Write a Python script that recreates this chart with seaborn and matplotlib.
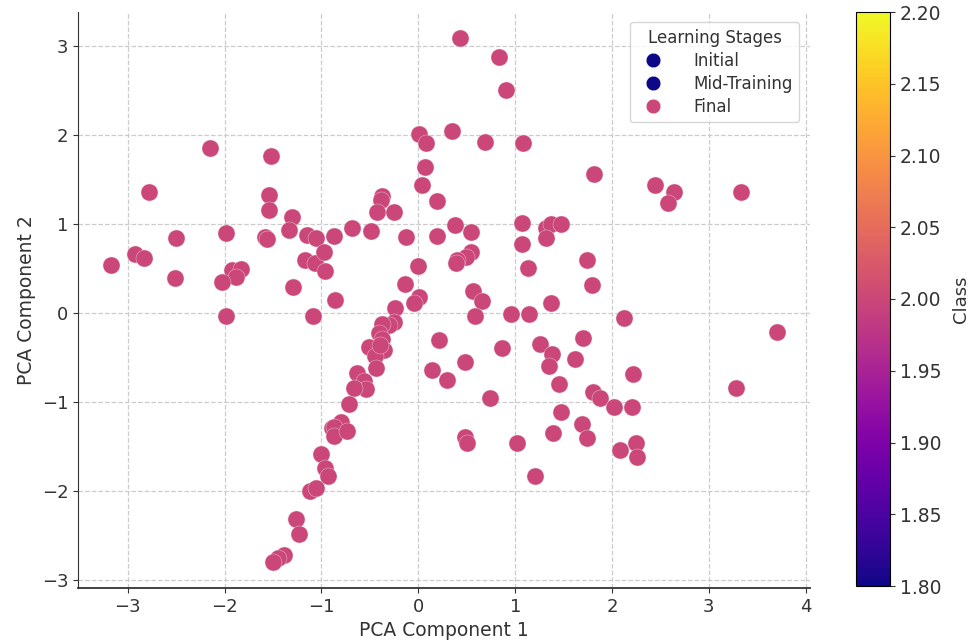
import numpy as np
import matplotlib
matplotlib.use("Agg")
import matplotlib.pyplot as plt
import seaborn as sns
import pandas as pd
from matplotlib.lines import Line2D

pc1 = [-2.15, -1.52, -2.78, -1.54, -1.54, -1.30, -1.99, -2.50, -1.58, -1.56, -1.34, -1.15, -1.06,
       -2.93, -2.83, -3.17, -1.92, -1.83, -1.88, -1.17, -1.07, -0.97, -0.96, -2.51, -2.03, -1.29,
       -1.99, -1.09, -0.86, -0.87,
       0.43, 0.83, 0.91, 0.01, 0.08, 0.35, 0.69, 1.08, 0.07, 0.04, 0.19, -0.37, -0.39, -0.43, -0.25,
       -0.68, -0.49, -0.13, 0.19, 0.38, 0.54, 1.07, 1.32, 1.37, 1.47, 1.32, 1.07, 0.54, 0.49, 0.40,
       0.39, 0.00, 1.13, -0.14, 0.56, 0.66, 0.01, -0.04, -0.24, 0.96, 1.14, 1.37,
       1.81, 2.44, 2.64, 2.58, 3.33, 1.74, 1.79,
       -0.89, -1.00, -0.96, -0.93, -1.12, -1.06, -1.26, -1.23, -1.39, -1.45, -1.50,
       0.58, -0.25, -0.30, -0.37, -0.41, -0.37, -0.51, -0.35, -0.45, -0.44, -0.40, -0.63, -0.56,
       -0.54, -0.66, -0.72, -0.80, -0.87, -0.87, -0.74, 0.21, 0.14, 0.30, 0.48, 0.86, 0.74, 0.48,
       0.50, 1.02, 1.20, 1.26, 1.38, 1.35, 1.45, 1.47, 1.39,
       2.12, 3.70, 1.70, 1.62, 2.22, 3.28, 1.80, 1.88, 2.02, 2.21, 1.69, 1.74, 2.08, 2.25, 2.26]
pc2 = [1.86, 1.77, 1.36, 1.33, 1.16, 1.08, 0.90, 0.84, 0.85, 0.83, 0.93, 0.88, 0.84,
       0.66, 0.62, 0.54, 0.48, 0.49, 0.40, 0.59, 0.56, 0.68, 0.47, 0.39, 0.35, 0.29,
       -0.03, -0.03, 0.14, 0.87,
       3.09, 2.88, 2.51, 2.01, 1.91, 2.05, 1.92, 1.91, 1.64, 1.44, 1.26, 1.32, 1.27, 1.13, 1.14,
       0.95, 0.92, 0.85, 0.86, 0.99, 0.91, 1.01, 0.96, 1.00, 1.00, 0.84, 0.77, 0.68, 0.63, 0.59,
       0.56, 0.53, 0.51, 0.33, 0.25, 0.13, 0.18, 0.11, 0.06, -0.01, -0.01, 0.11,
       1.56, 1.44, 1.36, 1.24, 1.36, 0.60, 0.31,
       -1.29, -1.59, -1.74, -1.84, -2.00, -1.97, -2.32, -2.49, -2.72, -2.76, -2.80,
       -0.03, -0.10, -0.14, -0.13, -0.23, -0.29, -0.38, -0.42, -0.49, -0.62, -0.36, -0.68, -0.77,
       -0.86, -0.85, -1.03, -1.23, -1.28, -1.38, -1.33, -0.31, -0.64, -0.75, -0.55, -0.39, -0.96, -1.40,
       -1.46, -1.46, -1.83, -0.35, -0.46, -0.60, -0.80, -1.11, -1.35,
       -0.06, -0.22, -0.28, -0.52, -0.69, -0.85, -0.89, -0.96, -1.06, -1.06, -1.25, -1.41, -1.54, -1.46, -1.62]
class_value = 2
stages = ["Initial", "Mid-Training", "Final"]
stage_values = [0, 1, 2]
cbar_ticks = [1.80, 1.85, 1.90, 1.95, 2.00, 2.05, 2.10, 2.15, 2.20]

df = pd.DataFrame({"PC1": pc1, "PC2": pc2, "Class": [class_value] * len(pc1)})

cmap = plt.get_cmap("plasma")
norm = matplotlib.colors.Normalize(vmin=1.8, vmax=2.2)
point_color = cmap(norm(class_value))

fig = plt.figure(figsize=(9.74, 6.4), dpi=100)
ax = fig.add_axes([78/974, 52/640, 732/974, 576/640])
cax = fig.add_axes([856/974, 54/640, 34/974, 574/640])

sns.scatterplot(data=df, x="PC1", y="PC2", color=point_color, s=150,
                edgecolor="#e8d0dc", linewidth=0.3, ax=ax, legend=False, zorder=3)

ax.grid(True, linestyle="--", color="#cccccc", linewidth=0.9)
ax.set_axisbelow(True)
for sp in ["top", "right"]:
    ax.spines[sp].set_visible(False)
ax.spines["left"].set_color("#333333")
ax.spines["bottom"].set_color("#333333")
ax.spines["bottom"].set_linewidth(1.3)
ax.set_xlabel("PCA Component 1", fontsize=13.5, color="#333333")
ax.set_ylabel("PCA Component 2", fontsize=13.5, color="#333333")
ax.tick_params(labelsize=13, colors="#333333")
ax.set_xticks([-3, -2, -1, 0, 1, 2, 3, 4])
ax.set_yticks([-3, -2, -1, 0, 1, 2, 3])

stage_colors = [cmap(0.0), cmap(0.0), cmap(norm(class_value))]
handles = [Line2D([0], [0], marker="o", linestyle="", markersize=10.5,
                  markerfacecolor=c, markeredgecolor="white", markeredgewidth=0.3)
           for c in stage_colors]
leg = ax.legend(handles, stages, title="Learning Stages", loc="upper right",
                fontsize=12, title_fontsize=12, handletextpad=1.4,
                borderpad=0.4, labelspacing=0.3, bbox_to_anchor=(0.997, 0.997))
for t in leg.get_texts():
    t.set_color("#333333")
leg.get_title().set_color("#333333")

sm = matplotlib.cm.ScalarMappable(norm=norm, cmap=cmap)
sm.set_array([])
cb = fig.colorbar(sm, cax=cax)
cb.set_ticks(cbar_ticks)
cb.set_ticklabels([f"{t:.2f}" for t in cbar_ticks])
cb.ax.tick_params(labelsize=13.5, colors="#333333")
cb.set_label("Class", fontsize=13, color="#333333", labelpad=8)

fig.savefig("out.png", dpi=100)
